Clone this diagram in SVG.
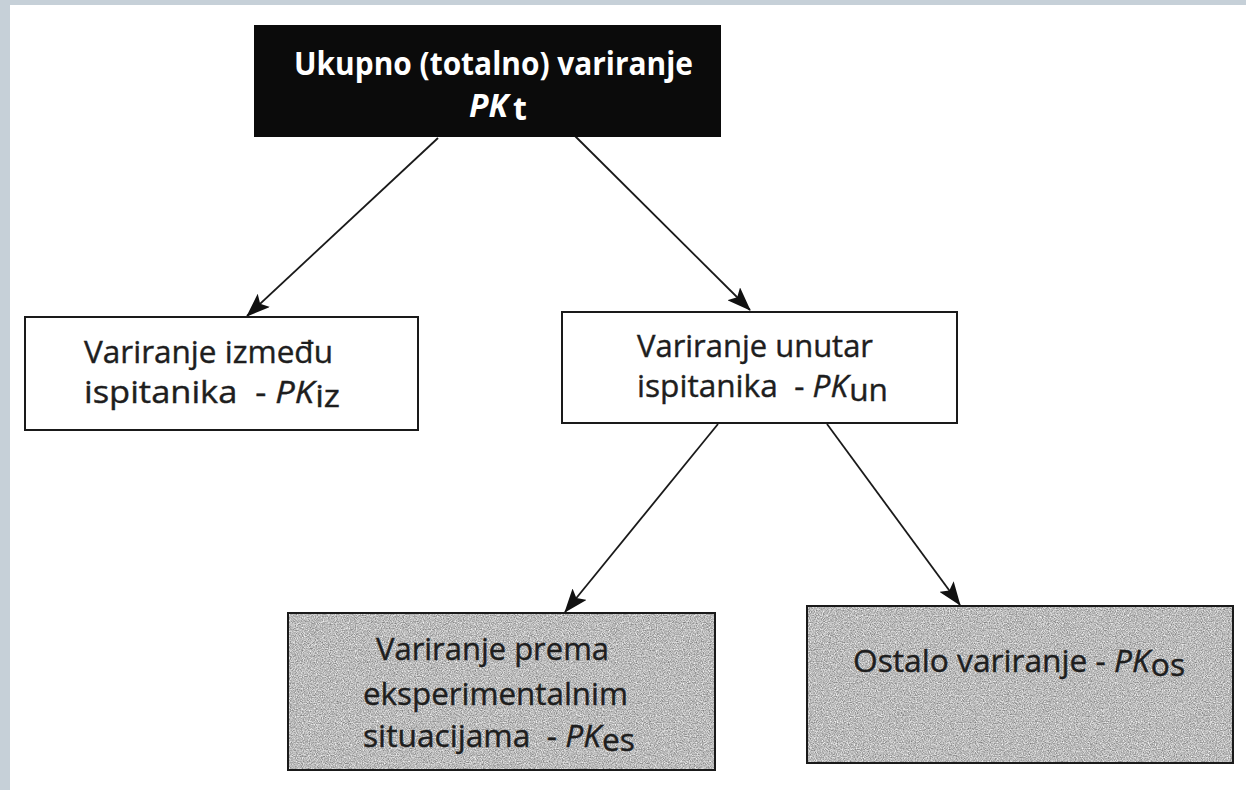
<svg xmlns="http://www.w3.org/2000/svg" width="1246" height="790" viewBox="0 0 1246 790">
  <style>
    .lbl { font-family: "Open Sans", "Liberation Sans", sans-serif; font-size: 31px; fill: #1e1e1e; stroke: #1e1e1e; stroke-width: 0.4; }
    .top { font-family: "Open Sans", "Liberation Sans", sans-serif; font-size: 32px; font-weight: bold; fill: #ffffff; }
    .it { font-style: italic; }
    .box { fill: #ffffff; stroke: #1a1a1a; stroke-width: 2; }
    .gbox { fill: none; stroke: #1a1a1a; stroke-width: 2; }
    .conn { stroke: #1a1a1a; stroke-width: 1.8; fill: none; marker-end: url(#arrow); }
  </style>
  <defs>
    <marker id="arrow" markerUnits="userSpaceOnUse" viewBox="0 0 24 18" markerWidth="24" markerHeight="18" refX="23" refY="9" orient="auto">
      <path d="M0,0 L24,9 L0,18 L5,9 Z" fill="#111"/>
    </marker>
    <filter id="grain" x="0" y="0" width="1" height="1" color-interpolation-filters="sRGB">
      <feTurbulence type="fractalNoise" baseFrequency="0.85" numOctaves="2" seed="7" result="t"/>
      <feColorMatrix in="t" type="matrix" values="0.7 0 0 0 0.38  0.7 0 0 0 0.38  0.7 0 0 0 0.38  0 0 0 0 1" result="g"/>
      <feComposite in="g" in2="SourceGraphic" operator="in"/>
    </filter>
  </defs>

  <rect x="0" y="0" width="1246" height="790" fill="#ffffff"/>
  <rect x="0" y="0" width="1246" height="5" fill="#c6d0d8"/>
  <rect x="0" y="0" width="10" height="790" fill="#c6d0d8"/>

  <g id="connectors">
    <line class="conn" x1="438" y1="138" x2="247" y2="316"/>
    <line class="conn" x1="575" y1="136" x2="750" y2="310"/>
    <line class="conn" x1="718" y1="424" x2="565" y2="612"/>
    <line class="conn" x1="827" y1="424" x2="960" y2="605"/>
  </g>

  <g id="node-total">
    <rect x="254" y="25" width="467" height="112" fill="#0b0b0b"/>
    <text class="top" x="294" y="75" textLength="399" lengthAdjust="spacingAndGlyphs">Ukupno (totalno) variranje</text>
    <text class="top" y="117"><tspan class="it" x="469">PK</tspan><tspan x="513" dy="3">t</tspan></text>
  </g>

  <g id="node-between">
    <rect class="box" x="25" y="317" width="393" height="113"/>
    <text class="lbl" x="84" y="363" textLength="249" lengthAdjust="spacingAndGlyphs">Variranje između</text>
    <text class="lbl" x="84" y="403" textLength="256" lengthAdjust="spacingAndGlyphs">ispitanika&#160; - <tspan class="it">PK</tspan><tspan dx="1" dy="4">iz</tspan></text>
  </g>

  <g id="node-within">
    <rect class="box" x="562" y="312" width="395" height="111"/>
    <text class="lbl" x="637" y="357" textLength="236" lengthAdjust="spacingAndGlyphs">Variranje unutar</text>
    <text class="lbl" x="637" y="397" textLength="251" lengthAdjust="spacingAndGlyphs">ispitanika&#160; - <tspan class="it">PK</tspan><tspan dx="1" dy="4">un</tspan></text>
  </g>

  <g id="node-experimental">
    <rect x="288" y="613" width="427" height="157" fill="#bdbdbd" filter="url(#grain)"/>
    <rect class="gbox" x="288" y="613" width="427" height="157"/>
    <text class="lbl" x="376" y="660" textLength="233" lengthAdjust="spacingAndGlyphs">Variranje prema</text>
    <text class="lbl" x="363" y="705" textLength="265" lengthAdjust="spacingAndGlyphs">eksperimentalnim</text>
    <text class="lbl" x="363" y="747" textLength="272" lengthAdjust="spacingAndGlyphs">situacijama&#160; - <tspan class="it">PK</tspan><tspan dx="1" dy="4">es</tspan></text>
  </g>

  <g id="node-other">
    <rect x="807" y="606" width="426" height="157" fill="#bdbdbd" filter="url(#grain)"/>
    <rect class="gbox" x="807" y="606" width="426" height="157"/>
    <text class="lbl" x="853" y="672" textLength="332" lengthAdjust="spacingAndGlyphs">Ostalo variranje - <tspan class="it">PK</tspan><tspan dx="1" dy="4">os</tspan></text>
  </g>
</svg>
